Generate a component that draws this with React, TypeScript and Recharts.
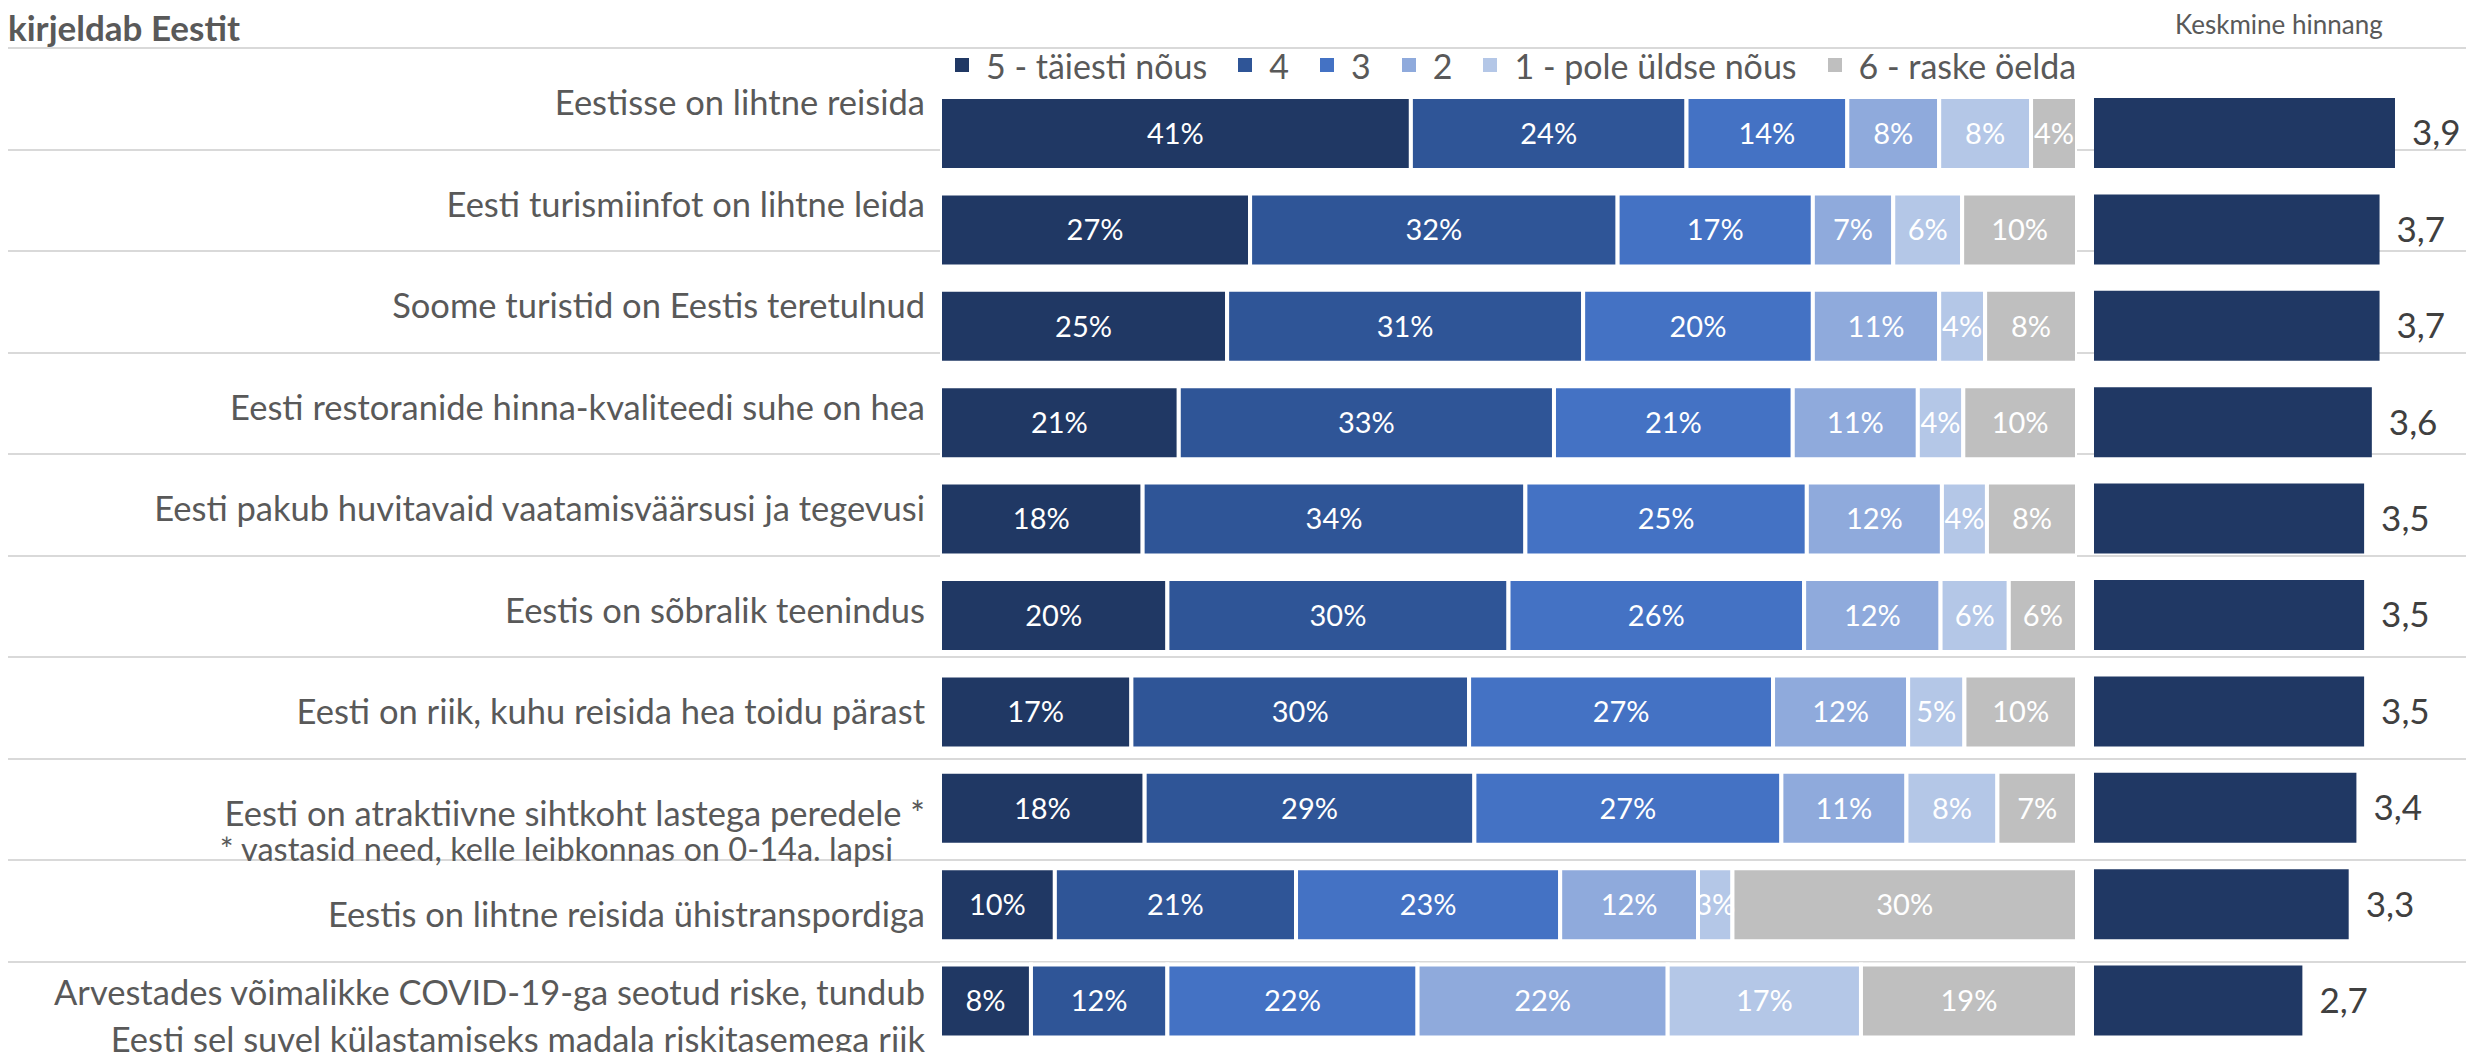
import React from 'react';
import { BarChart, Bar, XAxis, YAxis, LabelList } from 'recharts';

const categories = [
    'Eestisse on lihtne reisida',
    'Eesti turismiinfot on lihtne leida',
    'Soome turistid on Eestis teretulnud',
    'Eesti restoranide hinna-kvaliteedi suhe on hea',
    'Eesti pakub huvitavaid vaatamisväärsusi ja tegevusi',
    'Eestis on sõbralik teenindus',
    'Eesti on riik, kuhu reisida hea toidu pärast',
    'Eesti on atraktiivne sihtkoht lastega peredele *',
    'Eestis on lihtne reisida ühistranspordiga',
    'Arvestades võimalikke COVID-19-ga seotud riske, tundub\nEesti sel suvel külastamiseks madala riskitasemega riik',
];

const footnote = '* vastasid need, kelle leibkonnas on 0-14a. lapsi';
const footnoteRow = 7;

const seriesKeys = ['s5', 's4', 's3', 's2', 's1', 's6'];
const seriesNames = ['5 - täiesti nõus', '4', '3', '2', '1 - pole üldse nõus', '6 - raske öelda'];
const seriesColors = ['#203864', '#2F5597', '#4472C4', '#8FAADC', '#B4C7E7', '#BFBFBF'];

const fully = [41, 27, 25, 21, 18, 20, 17, 18, 10, 8];
const four = [24, 32, 31, 33, 34, 30, 30, 29, 21, 12];
const three = [14, 17, 20, 21, 25, 26, 27, 27, 23, 22];
const two = [8, 7, 11, 11, 12, 12, 12, 11, 12, 22];
const notAtAll = [8, 6, 4, 4, 4, 6, 5, 8, 3, 17];
const hardToSay = [4, 10, 8, 10, 8, 6, 10, 7, 30, 19];

const means = [3.9, 3.7, 3.7, 3.6, 3.5, 3.5, 3.5, 3.4, 3.3, 2.7];

const data = categories.map((name, i) => ({
    name,
    s5: fully[i],
    s4: four[i],
    s3: three[i],
    s2: two[i],
    s1: notAtAll[i],
    s6: hardToSay[i],
    mean: means[i],
}));

const FONT = 'Lato, "Noto Sans", sans-serif';
const GRID = '#D9D9D9';
const ROW_TOP = 48;
const ROW_H = 101.5;
const PLOT_TOP = 85;
const PLOT_H = 964;

function formatMean(v: unknown): string {
    return Number(v).toFixed(1).replace('.', ',');
}

export default function App() {
    return (
        <div
            style={{
                position: 'absolute',
                left: 0,
                top: 0,
                width: 2466,
                height: 1052,
                overflow: 'hidden',
                background: '#fff',
                fontFamily: FONT,
            }}
        >
            {/* table row lines behind everything */}
            {[...categories, ''].map((_, i) => (
                <div
                    key={'line' + i}
                    style={{
                        position: 'absolute',
                        left: 8,
                        right: 0,
                        top: ROW_TOP + i * ROW_H - 1,
                        height: 2,
                        background: GRID,
                    }}
                />
            ))}

            <div
                style={{
                    position: 'absolute',
                    left: 8,
                    top: 6,
                    fontSize: 35,
                    fontWeight: 700,
                    color: '#595959',
                    lineHeight: '42px',
                }}
            >
                kirjeldab Eestit
            </div>

            <div
                style={{
                    position: 'absolute',
                    left: 2175,
                    top: 8,
                    fontSize: 26,
                    color: '#595959',
                    lineHeight: '32px',
                }}
            >
                Keskmine hinnang
            </div>

            {/* legend */}
            <div
                style={{
                    position: 'absolute',
                    left: 955,
                    top: 45,
                    height: 40,
                    display: 'flex',
                    alignItems: 'center',
                    fontSize: 34,
                    color: '#595959',
                    whiteSpace: 'nowrap',
                }}
            >
                {seriesNames.map((n, i) => (
                    <div key={n} style={{ display: 'flex', alignItems: 'center', marginRight: 31 }}>
                        <div style={{ width: 14, height: 14, background: seriesColors[i], marginRight: 17 }} />
                        <span>{n}</span>
                    </div>
                ))}
            </div>

            {/* category labels */}
            {categories.map((c, i) => (
                <div
                    key={c}
                    style={{
                        position: 'absolute',
                        left: 0,
                        width: 925,
                        top: ROW_TOP + i * ROW_H + 3,
                        height: ROW_H,
                        display: 'flex',
                        flexDirection: 'column',
                        justifyContent: 'center',
                        alignItems: 'flex-end',
                        textAlign: 'right',
                        fontSize: 34.5,
                        lineHeight: '47px',
                        color: '#595959',
                        whiteSpace: 'nowrap',
                    }}
                >
                    {c.split('\n').map((line) => (
                        <div key={line}>{line}</div>
                    ))}
                    {i === footnoteRow && (
                        <div
                            style={{
                                position: 'absolute',
                                right: 32,
                                top: ROW_H / 2 + 19,
                                fontSize: 32.5,
                                lineHeight: '36px',
                            }}
                        >
                            {footnote}
                        </div>
                    )}
                </div>
            ))}

            {/* stacked 100% bars */}
            <div style={{ position: 'absolute', left: 940, top: PLOT_TOP }}>
                <BarChart
                    width={1137}
                    height={PLOT_H}
                    data={data}
                    layout="vertical"
                    stackOffset="expand"
                    margin={{ top: 0, right: 0, bottom: 0, left: 0 }}
                >
                    <XAxis type="number" hide domain={[0, 1]} />
                    <YAxis type="category" dataKey="name" hide />
                    {seriesKeys.map((k, i) => (
                        <Bar
                            key={k}
                            dataKey={k}
                            name={seriesNames[i]}
                            stackId="a"
                            fill={seriesColors[i]}
                            stroke="#fff"
                            strokeWidth={4}
                            barSize={73}
                            isAnimationActive={false}
                        >
                            <LabelList
                                dataKey={k}
                                position="center"
                                fill="#fff"
                                fontSize={29}
                                fontFamily={FONT}
                                formatter={(v: unknown) => `${v}%`}
                            />
                        </Bar>
                    ))}
                </BarChart>
            </div>

            {/* mean score bars */}
            <div style={{ position: 'absolute', left: 2094, top: PLOT_TOP }}>
                <BarChart
                    width={372}
                    height={PLOT_H}
                    data={data}
                    layout="vertical"
                    margin={{ top: 0, right: 0, bottom: 0, left: 0 }}
                >
                    <XAxis type="number" hide domain={[0, 4.82]} />
                    <YAxis type="category" dataKey="name" hide />
                    <Bar dataKey="mean" fill="#203864" barSize={70} isAnimationActive={false}>
                        <LabelList
                            dataKey="mean"
                            position="right"
                            offset={17}
                            fill="#404040"
                            fontSize={35}
                            fontFamily={FONT}
                            formatter={formatMean}
                        />
                    </Bar>
                </BarChart>
            </div>
        </div>
    );
}
